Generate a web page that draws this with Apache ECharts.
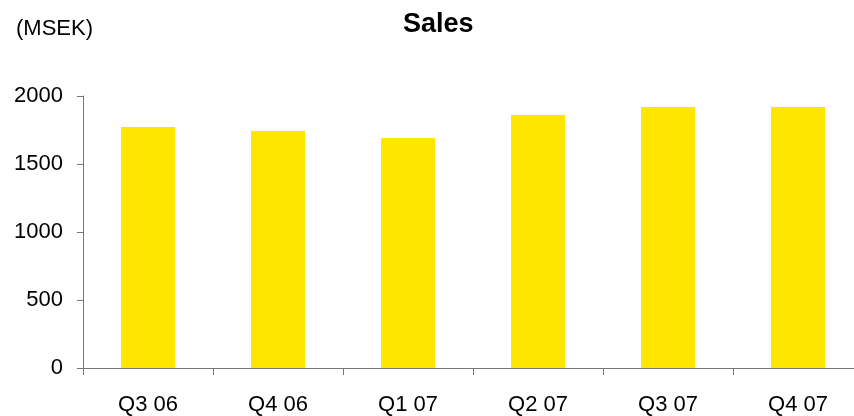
<!DOCTYPE html>
<html>
<head>
<meta charset="utf-8">
<script src="https://cdn.jsdelivr.net/npm/echarts@6/dist/echarts.min.js"></script>
<style>
html,body{margin:0;padding:0;background:#fff;}
#chart{width:854px;height:416px;}
</style>
</head>
<body>
<div id="chart"></div>
<script>
const categories = ['Q3 06', 'Q4 06', 'Q1 07', 'Q2 07', 'Q3 07', 'Q4 07'];
const sales = [1772, 1743, 1691, 1860, 1919, 1919];
const yTicks = [0, 500, 1000, 1500, 2000];
const titleText = 'Sales';
const unitText = '(MSEK)';

const FONT = '"Liberation Sans", Arial, sans-serif';
const chart = echarts.init(document.getElementById('chart'), null, {renderer: 'canvas'});
chart.setOption({
  animation: false,
  backgroundColor: '#ffffff',
  title: [{
    text: titleText,
    left: 403, top: 11, padding: 0,
    textStyle: {fontFamily: FONT, fontSize: 27, fontWeight: 'bold', color: '#000'}
  }, {
    text: unitText,
    left: 16, top: 18, padding: 0,
    textStyle: {fontFamily: FONT, fontSize: 22, fontWeight: 'normal', color: '#000'}
  }],
  grid: {left: 83, top: 96, width: 780, height: 272, containLabel: false, outerBoundsMode: 'none'},
  xAxis: {
    type: 'category',
    data: categories,
    boundaryGap: true,
    axisLine: {show: true, lineStyle: {color: '#777777', width: 1}},
    axisTick: {show: true, length: 7, alignWithLabel: false, lineStyle: {color: '#777777'}},
    axisLabel: {margin: 26, fontFamily: FONT, fontSize: 22, color: '#000'},
    splitLine: {show: false}
  },
  yAxis: {
    type: 'value',
    min: yTicks[0], max: yTicks[yTicks.length - 1], interval: 500,
    axisLine: {show: true, lineStyle: {color: '#777777', width: 1}},
    axisTick: {show: true, length: 6, lineStyle: {color: '#777777'}},
    axisLabel: {margin: 20, fontFamily: FONT, fontSize: 22, color: '#000',
      formatter: function (v) { return String(v); }},
    splitLine: {show: false}
  },
  series: [{
    type: 'bar',
    data: sales,
    barWidth: 54,
    itemStyle: {color: '#FFE600'}
  }]
});
</script>
</body>
</html>
